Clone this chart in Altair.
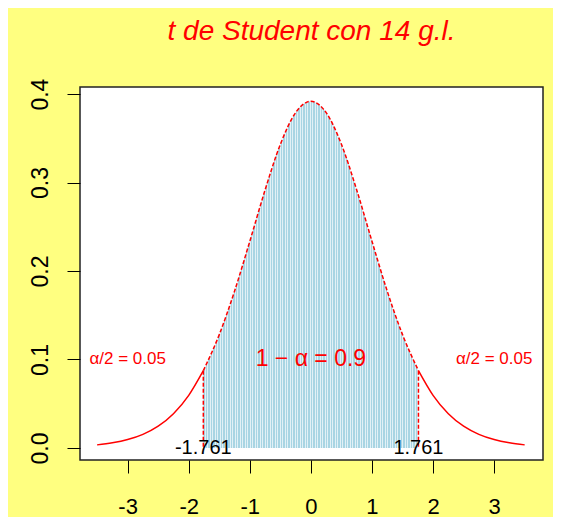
import altair as alt
import pandas as pd

# ---- data (t density, 14 d.f.) ----
x_vals = [-3.5, -3.25, -3.0, -2.75, -2.5, -2.25, -2.0, -1.761, -1.5, -1.25, -1.0, -0.75,
          -0.5, -0.25, 0.0, 0.25, 0.5, 0.75, 1.0, 1.25, 1.5, 1.761, 2.0, 2.25, 2.5, 2.75,
          3.0, 3.25, 3.5]
dens = [0.0035, 0.0058, 0.0095, 0.0154, 0.0246, 0.0387, 0.0595, 0.0874, 0.1281, 0.1772,
        0.2336, 0.2916, 0.3432, 0.3790, 0.3919, 0.3790, 0.3432, 0.2916, 0.2336, 0.1772,
        0.1281, 0.0874, 0.0595, 0.0387, 0.0246, 0.0154, 0.0095, 0.0058, 0.0035]
crit = 1.761
ticks_x = [-3, -2, -1, 0, 1, 2, 3]
ticks_y = [0.0, 0.1, 0.2, 0.3, 0.4]
title_text = "t de Student con 14 g.l."
note_labels = ["α/2 = 0.05", "1 − α = 0.9", "α/2 = 0.05"]
note_x = [-3.0, 0.0, 3.0]
note_y = [0.1, 0.1, 0.1]
note_size = [17, 23, 17]
crit_labels = ["-1.761", "1.761"]
crit_x = [-1.761, 1.761]
crit_y = [0.0, 0.0]

df = pd.DataFrame({"x": x_vals, "y": dens})
eps = 1e-9
left = df[df.x <= -crit + eps].assign(seg="L")
right = df[df.x >= crit - eps].assign(seg="R")
tails = pd.concat([left, right])
center = df[df.x.abs() <= crit + eps]
edges = df[(df.x.abs() - crit).abs() < 1e-6]
notes = pd.DataFrame({"x": note_x, "y": note_y, "t": note_labels, "s": note_size})
crits = pd.DataFrame({"x": crit_x, "y": crit_y, "t": crit_labels})

FONT = "Liberation Sans"
xscale = alt.Scale(domain=[-3.78, 3.80], nice=False, zero=False)
yscale = alt.Scale(domain=[-0.0136, 0.408], nice=False, zero=False)
xaxis = alt.Axis(values=ticks_x, title=None, grid=False, domain=False, ticks=True,
                 tickSize=13, tickColor="black", tickWidth=1, labelFontSize=22,
                 labelFont=FONT, labelColor="black", labelPadding=23,
                 labelExpr="'' + datum.value")
yaxis = alt.Axis(values=ticks_y, title=None, grid=False, domain=False, ticks=True,
                 tickSize=13, tickColor="black", tickWidth=1, labelFontSize=23,
                 labelFont=FONT, labelColor="black", labelPadding=20, format=".1f",
                 labelAngle=270, labelAlign="center", labelBaseline="alphabetic")
X = alt.X("x:Q", scale=xscale, axis=xaxis)
Y = alt.Y("y:Q", scale=yscale, axis=yaxis)

# hatch look of the shaded region (style only)
N = 86
blue = "#a8d5e3"
gap = "#e2f1f6"
stops = []
for i in range(N):
    a = round(i / N, 5)
    b = round((i + 0.6) / N, 5)
    c = round((i + 1) / N, 5)
    stops += [alt.GradientStop(offset=a, color=blue), alt.GradientStop(offset=b, color=blue),
              alt.GradientStop(offset=b, color=gap), alt.GradientStop(offset=c, color=gap)]
grad = alt.Gradient(gradient="linear", stops=stops, x1=0, x2=1, y1=0, y2=0)

area = alt.Chart(center).mark_area(color=grad, interpolate="monotone").encode(
    x=X, y=Y, y2=alt.datum(0))
tail_line = alt.Chart(tails).mark_line(color="red", strokeWidth=1.5, interpolate="monotone").encode(
    x=X, y=Y, detail="seg:N")
center_line = alt.Chart(center).mark_line(color="red", strokeWidth=1.5, strokeDash=[4, 2],
                                          interpolate="monotone").encode(x=X, y=Y)
edge_rules = alt.Chart(edges).mark_rule(color="red", strokeWidth=1.5, strokeDash=[4, 2]).encode(
    x=X, y=Y, y2=alt.datum(0))
note_text = alt.Chart(notes).mark_text(color="red", font=FONT, baseline="middle").encode(
    x=X, y=Y, text="t:N", size=alt.Size("s:Q", scale=None, legend=None))
crit_text = alt.Chart(crits).mark_text(color="black", font=FONT, fontSize=20,
                                       baseline="middle").encode(x=X, y=Y, text="t:N")

chart = alt.layer(area, tail_line, center_line, edge_rules, note_text, crit_text).properties(
    width=463, height=373,
    autosize=alt.AutoSizeParams(type="none"),
    padding={"left": 72, "top": 79, "right": 10, "bottom": 57},
    background="#ffff80",
    title=alt.TitleParams(title_text, font=FONT, fontSize=28, fontStyle="italic",
                          fontWeight="normal", color="red", anchor="middle",
                          baseline="alphabetic", offset=10, frame="group"),
).configure_view(stroke="#222222", strokeWidth=1.5, fill="white")

chart.save("out.html", embed_options={"renderer": "svg", "actions": False})
